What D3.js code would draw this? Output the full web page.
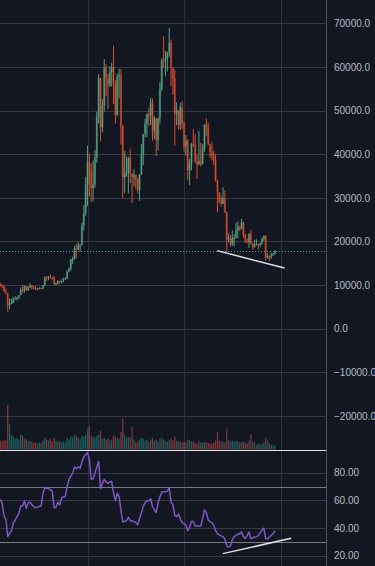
<!DOCTYPE html>
<html>
<head>
<meta charset="utf-8">
<script src="https://cdn.jsdelivr.net/npm/d3@7"></script>
<style>
  html, body { margin: 0; padding: 0; background: #131722; }
  svg { display: block; }
  .axis text { font-family: "Liberation Sans", Arial, sans-serif; font-size: 10px; fill: #b8bbc2; }
</style>
</head>
<body>
<div id="chart"></div>
<script>
var svgWidth = 375;
var svgHeight = 566;

// weekly bars, first Monday .. last Monday
var firstWeek = "2020-02-10";
var lastWeek = "2022-12-12";

var open = [10170, 9900, 9660, 8530, 8030, 5360, 5830, 5880, 6770, 6860,
  7120, 7700, 8900, 8720, 9680, 8900, 9450, 9750, 9380, 9300,
  9000, 9070, 9300, 9170, 9940, 11800, 11750, 11920, 11680, 11650,
  10250, 10330, 10920, 10780, 11370, 11500, 11500, 13030, 13780, 15960,
  15960, 18380, 18180, 19160, 19270, 23730, 26490, 33000, 38150, 36070,
  32260, 33100, 39250, 48600, 57500, 46100, 51200, 59800, 57400, 55800,
  58800, 60000, 56200, 49000, 57800, 58200, 46400, 34700, 35700, 35800,
  39100, 35500, 34700, 35300, 34200, 31800, 35400, 39800, 44600, 47000,
  49200, 48800, 51800, 45200, 48200, 43200, 48200, 54900, 61500, 61300,
  61800, 63300, 65500, 59700, 57300, 49400, 50100, 46700, 50800, 47300,
  41800, 43100, 36300, 37900, 42400, 42200, 38400, 37700, 38400, 37800,
  41300, 46800, 46400, 42200, 40400, 39500, 38500, 34000, 31300, 29400,
  28600, 29900, 26600, 20500, 20700, 19300, 20800, 20800, 22600, 23300,
  22900, 24400, 21500, 20000, 19800, 21800, 19400, 18800, 19300, 19400,
  19200, 19600, 20600, 21300, 16300, 16600, 16400, 17100, 17200];
var high = [10500, 10250, 9960, 9190, 8150, 6900, 6950, 7280, 7470, 7290,
  7750, 9460, 10060, 9900, 9840, 9750, 10430, 9990, 9820, 9790,
  9310, 9480, 9350, 10000, 12000, 12080, 12080, 12470, 11790, 12090,
  10580, 11110, 10990, 10950, 11720, 11730, 13350, 14070, 15970, 16500,
  19000, 19480, 19920, 19380, 24300, 28400, 34800, 41950, 40100, 37850,
  38500, 40950, 49700, 58350, 57500, 52600, 61780, 60600, 58400, 60200,
  61000, 64850, 57000, 58500, 59600, 59500, 46700, 40800, 39500, 39400,
  41300, 35600, 36600, 35300, 34600, 35400, 42300, 44700, 48100, 49300,
  50500, 52900, 52800, 48800, 48200, 48400, 56500, 62000, 67000, 63700,
  63500, 69000, 66300, 59900, 59400, 51900, 50100, 51800, 52100, 47500,
  44400, 43500, 38900, 42600, 45800, 44600, 39800, 45400, 42600, 42300,
  46800, 48200, 47200, 42400, 42900, 40800, 40000, 34200, 31300, 30500,
  32400, 31700, 26800, 21900, 21500, 22500, 21600, 24300, 24600, 23600,
  25200, 24500, 21800, 20600, 21800, 22700, 19700, 20400, 20500, 19500,
  19700, 20900, 21400, 21400, 17200, 16800, 17400, 17400, 18000];
var low = [9700, 9300, 8500, 8000, 3850, 4450, 5690, 5860, 6750, 6470,
  6800, 7650, 8200, 8230, 8640, 8630, 9300, 8920, 9170, 8860,
  8940, 9050, 9060, 9150, 9900, 10970, 11130, 11550, 11150, 10000,
  9880, 10210, 10140, 10370, 10600, 11220, 11400, 12940, 13300, 14870,
  15800, 16200, 18050, 17620, 19000, 22500, 25900, 28130, 30300, 28950,
  29240, 32300, 37990, 47050, 43000, 45000, 49800, 53300, 50300, 55400,
  55500, 51500, 47000, 48700, 52800, 42200, 30000, 31100, 34800, 31000,
  33400, 28800, 32700, 32100, 31000, 29300, 35200, 37500, 43800, 43900,
  46400, 46700, 43000, 43400, 39600, 40800, 47000, 54400, 59700, 58000,
  59000, 62300, 55600, 53600, 42000, 46600, 45500, 45600, 45700, 40600,
  39700, 34000, 32900, 36300, 41700, 38000, 34300, 37500, 37200, 37600,
  40500, 44200, 42100, 39200, 38600, 37600, 33700, 26700, 28700, 28000,
  28600, 26600, 17600, 19800, 18800, 19000, 18900, 20700, 20700, 22400,
  22700, 20800, 19600, 19600, 18500, 19400, 18100, 18500, 19100, 18200,
  18700, 19200, 20100, 15600, 16000, 15500, 16000, 16700, 17000];
var close = [9900, 9660, 8530, 8030, 5360, 5830, 5880, 6770, 6860, 7120,
  7700, 8900, 8720, 9680, 8900, 9450, 9750, 9380, 9300, 9000,
  9070, 9300, 9170, 9940, 11800, 11750, 11920, 11680, 11650, 10250,
  10330, 10920, 10780, 11370, 11500, 11500, 13030, 13780, 15960, 15960,
  18380, 18180, 19160, 19270, 23730, 26490, 33000, 38150, 36070, 32260,
  33100, 39250, 48600, 57500, 46100, 51200, 59800, 57400, 55800, 58800,
  60000, 56200, 49000, 57800, 58200, 46400, 34700, 35700, 35800, 39100,
  35500, 34700, 35300, 34200, 31800, 35400, 39800, 44600, 47000, 49200,
  48800, 51800, 45200, 48200, 43200, 48200, 54900, 61500, 61300, 61800,
  63300, 65500, 59700, 57300, 49400, 50100, 46700, 50800, 47300, 41800,
  43100, 36300, 37900, 42400, 42200, 38400, 37700, 38400, 37800, 41300,
  46800, 46400, 42200, 40400, 39500, 38500, 34000, 31300, 29400, 28600,
  29900, 26600, 20500, 20700, 19300, 20800, 20800, 22600, 23300, 22900,
  24400, 21500, 20000, 19800, 21800, 19400, 18800, 19300, 19400, 19200,
  19600, 20600, 21300, 16300, 16600, 16400, 17100, 17200, 17750];
var volume = [9, 8, 10, 9, 45, 26, 15, 13, 11, 12,
  10, 15, 14, 11, 10, 8, 9, 8, 7, 7,
  6, 7, 6, 9, 12, 10, 9, 11, 8, 12,
  9, 8, 8, 7, 8, 7, 12, 10, 13, 12,
  15, 14, 12, 10, 14, 13, 15, 21, 23, 14,
  13, 12, 14, 15, 19, 11, 12, 10, 11, 9,
  10, 14, 13, 12, 11, 18, 31, 15, 12, 13,
  12, 23, 10, 8, 7, 10, 12, 11, 9, 10,
  8, 10, 12, 9, 10, 8, 11, 12, 10, 8,
  8, 10, 11, 9, 13, 9, 8, 8, 7, 8,
  7, 10, 9, 8, 8, 7, 6, 9, 7, 7,
  8, 7, 7, 6, 6, 7, 9, 18, 9, 8,
  8, 7, 21, 10, 8, 9, 8, 9, 8, 7,
  7, 8, 7, 6, 9, 15, 8, 7, 5, 6,
  5, 6, 7, 12, 9, 6, 5, 5, 4];
var rsi = [60.8, 58, 48.7, 46.3, 33.8, 36.2, 38.1, 43.5, 45.8, 48.2,
  50.5, 56, 56, 59.8, 54.3, 58.3, 58.8, 56.7, 55.5, 54.7,
  55, 55.7, 56, 65.1, 69.2, 68.5, 68.8, 67.5, 67, 54.7,
  55, 58.6, 56.7, 61.7, 62.5, 62.7, 69.9, 75, 77.6, 79.5,
  84.3, 82.9, 84.3, 83.2, 88.2, 91.6, 93, 94.7, 89.2, 75.2,
  75.7, 79.5, 84.3, 88.2, 68.5, 72.3, 75.2, 73.5, 72.3, 73.3,
  73.8, 65.6, 59.8, 65.1, 62.7, 53, 44.4, 44.9, 45.3, 47.8,
  45.3, 45.3, 44.5, 43.9, 42.4, 46.8, 51, 55.5, 58.3, 59.8,
  59.5, 61.2, 55.5, 53.5, 51.1, 57.9, 62.5, 66.1, 66.2, 66.3,
  66.5, 69, 58.8, 56.9, 49.2, 48.2, 50.2, 46.3, 44, 43,
  42.2, 38.1, 40.6, 44.9, 44.6, 41.5, 41.5, 41.5, 41.5, 47,
  53.1, 51.1, 45.8, 44.5, 43.9, 42, 38.1, 35.7, 34.8, 34.3,
  33.8, 32, 27.1, 26.1, 27.1, 31.4, 33.8, 34.8, 35.5, 36,
  37.2, 33.8, 32.5, 34.5, 37.2, 32.3, 33, 33.5, 33.8, 34.5,
  36.5, 38.5, 40, 32.3, 32, 33.5, 34.8, 36, 38.1];

var priceTicks = [-20000, -10000, 0, 10000, 20000, 30000, 40000, 50000, 60000, 70000];
var rsiTicks = [20, 40, 60, 80];
var rsiBands = [70, 30];
var yearStarts = ["2021-01-04", "2022-01-03", "2023-01-02"];
var lastPrice = 17750;
var priceTrend = [["2022-05-08", 17900], ["2023-01-17", 13900]];
var rsiTrend = [["2022-05-29", 21.5], ["2023-02-11", 32.6]];

var parseDate = d3.utcParse("%Y-%m-%d");
var weeks = d3.utcMonday.range(parseDate(firstWeek), d3.utcDay.offset(parseDate(lastWeek), 1));

var bars = weeks.map((d, i) => ({
  date: d,
  open: open[i],
  high: high[i],
  low: low[i],
  close: close[i],
  volume: volume[i],
  rsi: rsi[i],
}));

var plotRight = 326;
var sepY = 450.5;

var svg = d3
  .select("#chart")
  .append("svg")
  .attr("width", svgWidth)
  .attr("height", svgHeight);

svg.append("rect").attr("width", svgWidth).attr("height", svgHeight).attr("fill", "#131722");

var x = d3
  .scaleUtc()
  .domain([parseDate(firstWeek), parseDate(lastWeek)])
  .range([0.3, 275]);

var y = d3.scaleLinear().domain([-20000, 70000]).range([416, 23.3]);
var yVol = d3.scaleLinear().domain([0, 45]).range([449.5, 405]);
var yRsi = d3.scaleLinear().domain([20, 80]).range([555.7, 472.7]);

// vertical grid, both panes
svg
  .append("g")
  .selectAll("line")
  .data(yearStarts.map(parseDate))
  .join("line")
  .attr("x1", (d) => Math.round(x(d)) + 0.5)
  .attr("x2", (d) => Math.round(x(d)) + 0.5)
  .attr("y1", 0)
  .attr("y2", svgHeight)
  .attr("stroke", "#2f323c")
  .attr("stroke-width", 1);

// horizontal price grid
svg
  .append("g")
  .selectAll("line")
  .data(priceTicks)
  .join("line")
  .attr("x1", 0)
  .attr("x2", plotRight)
  .attr("y1", (d) => Math.round(y(d)) + 0.5)
  .attr("y2", (d) => Math.round(y(d)) + 0.5)
  .attr("stroke", "#363943")
  .attr("stroke-width", 1);

// volume
svg
  .append("g")
  .selectAll("rect")
  .data(bars)
  .join("rect")
  .attr("x", (d) => x(d.date) - 0.65)
  .attr("width", 1.3)
  .attr("y", (d) => yVol(d.volume))
  .attr("height", (d) => yVol(0) - yVol(d.volume))
  .attr("fill", (d) => (d.close >= d.open ? "#26a69a" : "#ef5350"))
  .attr("opacity", 0.5);

// candles
var candleGroup = svg.append("g");
candleGroup
  .selectAll("rect")
  .data(bars)
  .join("rect")
  .attr("x", (d) => x(d.date) - 1.1)
  .attr("width", 2.2)
  .attr("y", (d) => y(Math.max(d.open, d.close)))
  .attr("height", (d) => Math.max(1, Math.abs(y(d.open) - y(d.close))))
  .attr("fill", (d) => (d.close >= d.open ? "#5aa886" : "#d2482c"))
  .attr("opacity", 0.5);
candleGroup
  .selectAll("line")
  .data(bars)
  .join("line")
  .attr("x1", (d) => x(d.date))
  .attr("x2", (d) => x(d.date))
  .attr("y1", (d) => y(d.high))
  .attr("y2", (d) => y(d.low))
  .attr("stroke", (d) => (d.close >= d.open ? "#5fae8a" : "#ee5530"))
  .attr("stroke-width", 0.9);

// last price line
svg
  .append("line")
  .attr("x1", 0)
  .attr("x2", plotRight)
  .attr("y1", Math.round(y(lastPrice)) + 0.5)
  .attr("y2", Math.round(y(lastPrice)) + 0.5)
  .attr("stroke", "#4d9a90")
  .attr("stroke-dasharray", "1,2");

// price trend line
svg
  .append("line")
  .attr("x1", x(parseDate(priceTrend[0][0])))
  .attr("y1", y(priceTrend[0][1]))
  .attr("x2", x(parseDate(priceTrend[1][0])))
  .attr("y2", y(priceTrend[1][1]))
  .attr("stroke", "#dfe1e6")
  .attr("stroke-width", 1.5);

// pane separator
svg
  .append("line")
  .attr("x1", 0)
  .attr("x2", plotRight)
  .attr("y1", sepY)
  .attr("y2", sepY)
  .attr("stroke", "#e6e6e6")
  .attr("stroke-width", 1);

// rsi grid + bands
svg
  .append("g")
  .selectAll("line")
  .data(rsiTicks)
  .join("line")
  .attr("x1", 0)
  .attr("x2", plotRight)
  .attr("y1", (d) => Math.round(yRsi(d)) + 0.5)
  .attr("y2", (d) => Math.round(yRsi(d)) + 0.5)
  .attr("stroke", "#363943");
svg
  .append("g")
  .selectAll("line")
  .data(rsiBands)
  .join("line")
  .attr("x1", 0)
  .attr("x2", plotRight)
  .attr("y1", (d) => Math.round(yRsi(d)) + 0.5)
  .attr("y2", (d) => Math.round(yRsi(d)) + 0.5)
  .attr("stroke", "#787b86");

// rsi line
var rsiLine = d3
  .line()
  .x((d) => x(d.date))
  .y((d) => yRsi(d.rsi));
svg
  .append("path")
  .datum(bars)
  .attr("d", rsiLine)
  .attr("fill", "none")
  .attr("stroke", "#7e57c2")
  .attr("stroke-width", 1.5)
  .attr("stroke-linejoin", "round");

svg
  .append("line")
  .attr("x1", x(parseDate(rsiTrend[0][0])))
  .attr("y1", yRsi(rsiTrend[0][1]))
  .attr("x2", x(parseDate(rsiTrend[1][0])))
  .attr("y2", yRsi(rsiTrend[1][1]))
  .attr("stroke", "#dfe1e6")
  .attr("stroke-width", 1.5);

// right scale border
svg
  .append("line")
  .attr("x1", plotRight + 0.5)
  .attr("x2", plotRight + 0.5)
  .attr("y1", 0)
  .attr("y2", svgHeight)
  .attr("stroke", "#50535e");

// axis labels
var priceAxis = d3
  .axisRight(y)
  .tickValues(priceTicks)
  .tickFormat(d3.format(".1f"))
  .tickSize(0)
  .tickPadding(8);
svg
  .append("g")
  .attr("class", "axis")
  .attr("transform", `translate(${plotRight}, 0)`)
  .call(priceAxis)
  .call((g) => g.select(".domain").remove());

var rsiAxis = d3
  .axisRight(yRsi)
  .tickValues(rsiTicks)
  .tickFormat(d3.format(".2f"))
  .tickSize(0)
  .tickPadding(8);
svg
  .append("g")
  .attr("class", "axis")
  .attr("transform", `translate(${plotRight}, 0)`)
  .call(rsiAxis)
  .call((g) => g.select(".domain").remove());
</script>
</body>
</html>
